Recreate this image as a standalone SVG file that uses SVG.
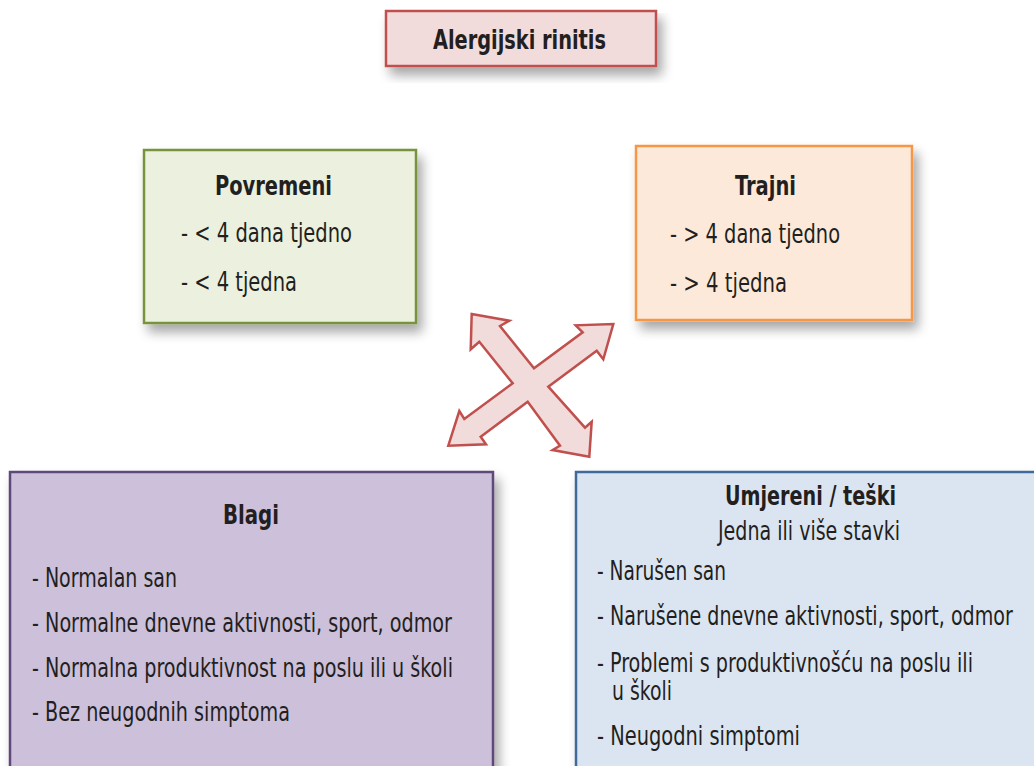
<svg xmlns="http://www.w3.org/2000/svg" width="1034" height="766" viewBox="0 0 1034 766">
<defs>
<filter id="sh" x="-10%" y="-10%" width="130%" height="140%">
<feGaussianBlur in="SourceAlpha" stdDeviation="6"/>
<feOffset dx="5" dy="8" result="b"/>
<feComponentTransfer><feFuncA type="linear" slope="0.35"/></feComponentTransfer>
<feMerge><feMergeNode/><feMergeNode in="SourceGraphic"/></feMerge>
</filter>
<style>
text{font-family:"Liberation Sans Narrow","DejaVu Sans Condensed","Liberation Sans",sans-serif;font-size:26px;fill:#231f20}
.b{font-weight:bold}
.box{stroke-width:2.5}
</style>
</defs>
<rect width="1034" height="766" fill="#ffffff"/>
<g id="title">
<rect class="box" x="386" y="11" width="270" height="55" fill="#f2dcdb" stroke="#c0504d" filter="url(#sh)"/>
<text class="b" x="433" y="49" textLength="173" lengthAdjust="spacingAndGlyphs">Alergijski rinitis</text>
</g>
<g id="povremeni">
<rect class="box" x="144" y="150" width="272" height="173" fill="#ebf1de" stroke="#77933c" filter="url(#sh)"/>
<text class="b" x="215" y="195" textLength="117" lengthAdjust="spacingAndGlyphs">Povremeni</text>
<text x="181" y="242" textLength="171" lengthAdjust="spacingAndGlyphs">- &lt; 4 dana tjedno</text>
<text x="181" y="291" textLength="116" lengthAdjust="spacingAndGlyphs">- &lt; 4 tjedna</text>
</g>
<g id="trajni">
<rect class="box" x="636" y="146" width="276" height="174" fill="#fde9d9" stroke="#f79646" filter="url(#sh)"/>
<text class="b" x="735" y="195" textLength="61" lengthAdjust="spacingAndGlyphs">Trajni</text>
<text x="670" y="243" textLength="170" lengthAdjust="spacingAndGlyphs">- &gt; 4 dana tjedno</text>
<text x="670" y="292" textLength="117" lengthAdjust="spacingAndGlyphs">- &gt; 4 tjedna</text>
</g>
<g id="blagi">
<rect class="box" x="10" y="472" width="483" height="310" fill="#ccc0da" stroke="#5f497a" filter="url(#sh)"/>
<text class="b" x="223" y="524" textLength="56" lengthAdjust="spacingAndGlyphs">Blagi</text>
<text x="32" y="587" textLength="145" lengthAdjust="spacingAndGlyphs">- Normalan san</text>
<text x="32" y="632" textLength="420" lengthAdjust="spacingAndGlyphs">- Normalne dnevne aktivnosti, sport, odmor</text>
<text x="32" y="677" textLength="421" lengthAdjust="spacingAndGlyphs">- Normalna produktivnost na poslu ili u školi</text>
<text x="32" y="721" textLength="258" lengthAdjust="spacingAndGlyphs">- Bez neugodnih simptoma</text>
</g>
<g id="umjereni">
<rect class="box" x="576" y="472" width="480" height="310" fill="#dbe5f1" stroke="#41699c" filter="url(#sh)"/>
<text class="b" x="725" y="505" textLength="171" lengthAdjust="spacingAndGlyphs">Umjereni / teški</text>
<text x="718" y="540" textLength="182" lengthAdjust="spacingAndGlyphs">Jedna ili više stavki</text>
<text x="597" y="580" textLength="129" lengthAdjust="spacingAndGlyphs">- Narušen san</text>
<text transform="translate(597,625) scale(0.82,1)" x="0" y="0" textLength="507" lengthAdjust="spacingAndGlyphs">- Narušene dnevne aktivnosti, sport, odmor</text>
<text transform="translate(597,672) scale(0.82,1)" x="0" y="0" textLength="458.5" lengthAdjust="spacingAndGlyphs">- Problemi s produktivnošću na poslu ili</text>
<text x="612" y="700" textLength="60" lengthAdjust="spacingAndGlyphs">u školi</text>
<text x="597" y="745" textLength="203" lengthAdjust="spacingAndGlyphs">- Neugodni simptomi</text>
</g>
<g id="connectors">
<polygon fill="#f2dbdb" stroke="#c0504d" stroke-width="2.5" stroke-linejoin="miter" points="471.7,314 509.3,320.7 500,326 534,368.3 582.7,332.3 575.7,325.3 613.3,324 603.3,359.3 596.7,350.7 548.3,386.7 585,427.7 591.7,421.7 589.3,456.7 552.7,450 560,445.7 527.7,401.7 480.7,436.7 486,444.3 448.3,445.7 459.3,411 464.3,419 512.7,383.3 479.3,341.7 470.7,349.3"/>
</g>
</svg>
